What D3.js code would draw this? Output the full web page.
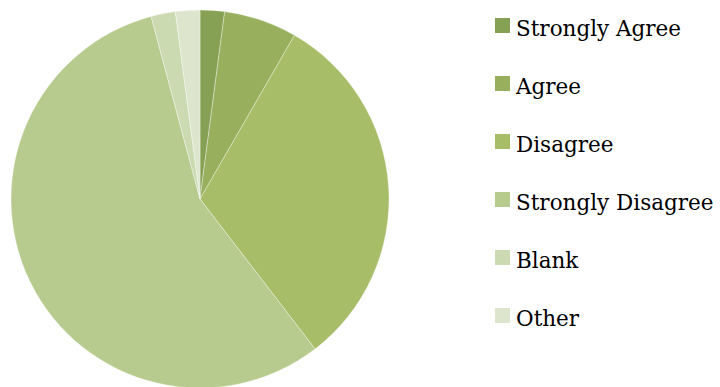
<!DOCTYPE html>
<html>
<head>
<meta charset="utf-8">
<script src="https://cdn.jsdelivr.net/npm/d3@7"></script>
<style>
  html, body { margin: 0; padding: 0; background: #ffffff; }
  svg { display: block; }
</style>
</head>
<body>
<svg id="chart" width="720" height="387"></svg>
<script>
// Survey responses (counts)
const categories = ["Strongly Agree", "Agree", "Disagree", "Strongly Disagree", "Blank", "Other"];
const counts = [1, 3, 15, 27, 1, 1];
const colors = ["#86a054", "#98b05e", "#a7bd67", "#b8cb8e", "#cbdab0", "#dde5cc"];

const svg = d3.select("#chart");
const cx = 200, cy = 199, radius = 189;

const data = categories.map((c, i) => ({ label: c, value: counts[i], color: colors[i] }));

const pie = d3.pie().value(d => d.value).sort(null);
const arc = d3.arc().innerRadius(0).outerRadius(radius);

const g = svg.append("g").attr("transform", `translate(${cx},${cy})`);
g.selectAll("path")
  .data(pie(data))
  .join("path")
  .attr("d", arc)
  .attr("fill", d => d.data.color)
  .attr("stroke", "rgba(255,255,255,0.45)")
  .attr("stroke-width", 0.75);

// Legend
const legend = svg.append("g").attr("transform", "translate(495,18)");
const rowStep = 58;
const rows = legend.selectAll("g.item")
  .data(data)
  .join("g")
  .attr("class", "item")
  .attr("transform", (d, i) => `translate(0,${i * rowStep})`);
rows.append("rect")
  .attr("width", 15).attr("height", 15)
  .attr("fill", d => d.color);
rows.append("text")
  .attr("x", 21).attr("y", 17.5)
  .attr("font-family", "'DejaVu Serif', serif")
  .attr("font-size", 21.5)
  .attr("fill", "#000")
  .text(d => d.label);
</script>
</body>
</html>
